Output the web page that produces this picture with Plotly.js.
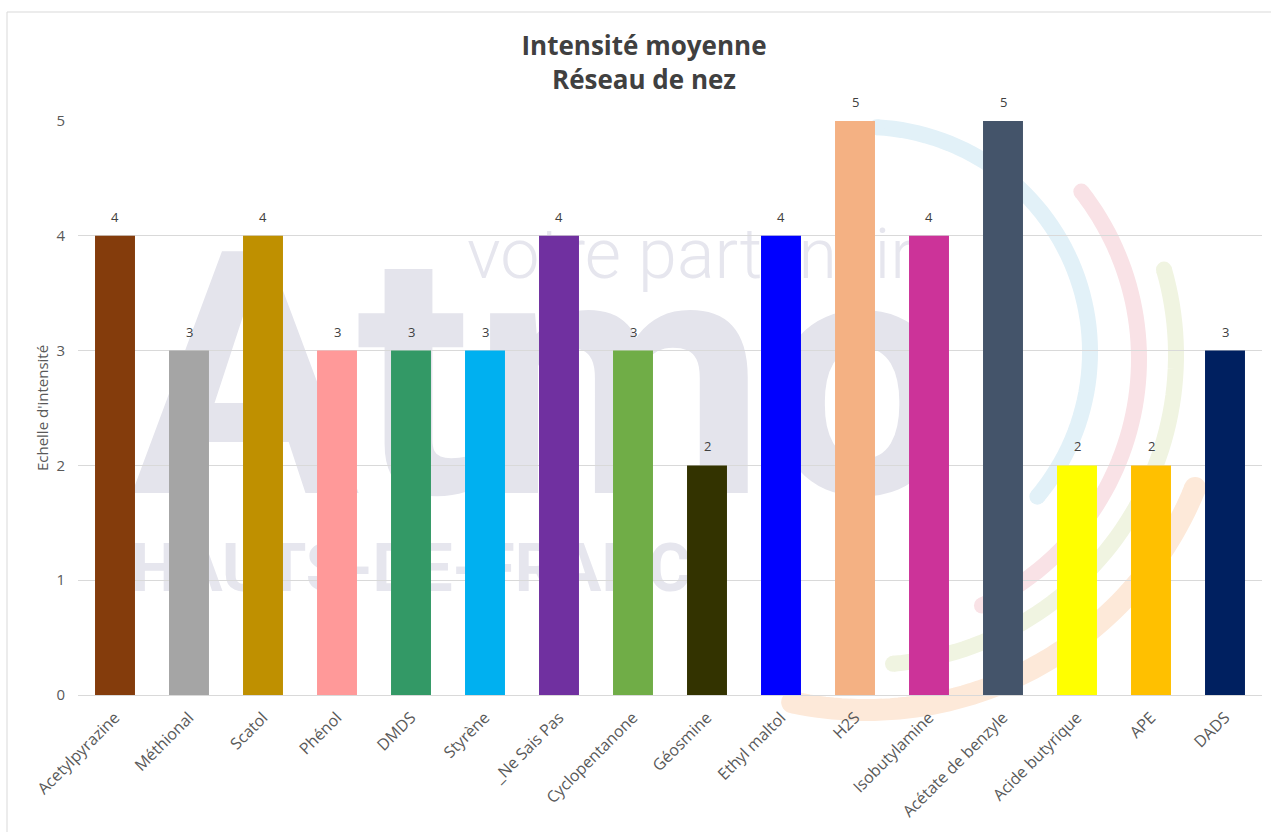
<!DOCTYPE html>
<html>
<head>
<meta charset="utf-8">
<script src="https://cdn.plot.ly/plotly-3.0.1.min.js"></script>
<style>
  html, body { margin: 0; padding: 0; background: #ffffff; }
  #chart { width: 1271px; height: 832px; }
</style>
</head>
<body>
<div id="chart"></div>
<script>
// Odorants tested by the nose panel and their mean intensity score
const categories = [
  'Acetylpyrazine', 'Méthional', 'Scatol', 'Phénol', 'DMDS', 'Styrène',
  '_Ne Sais Pas', 'Cyclopentanone', 'Géosmine', 'Ethyl maltol', 'H2S',
  'Isobutylamine', 'Acétate de benzyle', 'Acide butyrique', 'APE', 'DADS'
];
const intensities = [4, 3, 4, 3, 3, 3, 4, 3, 2, 4, 5, 4, 5, 2, 2, 3];
const barColors = [
  '#843C0C', '#A5A5A5', '#BF9000', '#FF9999', '#339966', '#00B0F0',
  '#7030A0', '#70AD47', '#333300', '#0000FF', '#F4B183', '#CC3399',
  '#44546A', '#FFFF00', '#FFC000', '#002060'
];
const yTicks = [0, 1, 2, 3, 4, 5];

// Frame of the plotting area in page pixels
const W = 1271, H = 832;
const M = { l: 78, r: 9, t: 121, b: 137 };
const PW = W - M.l - M.r, PH = H - M.t - M.b;
const px = x => (x - M.l) / PW;          // page x -> paper x
const py = y => (H - M.b - y) / PH;      // page y -> paper y

// Faint background logo: lettering + coloured arcs, all beneath the bars
const logoGrey = '#e4e4ec';
function textShape(text, x0, y0, x1, y1, size, color, weight, pos) {
  return {
    type: 'rect', layer: 'below', xref: 'paper', yref: 'paper',
    x0: px(x0), x1: px(x1), y0: py(y1), y1: py(y0),
    line: { width: 0 }, fillcolor: 'rgba(0,0,0,0)',
    label: {
      text: text, textposition: pos || 'bottom left', padding: 0,
      font: { family: 'Roboto, sans-serif', size: size, color: color, weight: weight }
    }
  };
}
function arcShapes(cx, cy, r, a0, a1, width, color) {
  const pts = [];
  const n = 60;
  for (let i = 0; i <= n; i++) {
    const a = (a0 + (a1 - a0) * i / n) * Math.PI / 180;
    pts.push([cx + r * Math.cos(a), cy + r * Math.sin(a)]);
  }
  const d = pts.map((p, i) => (i ? 'L' : 'M') + px(p[0]).toFixed(5) + ',' + py(p[1]).toFixed(5)).join(' ');
  const cap = p => ({
    type: 'circle', layer: 'below', xref: 'paper', yref: 'paper',
    xsizemode: 'pixel', ysizemode: 'pixel',
    xanchor: px(p[0]), yanchor: py(p[1]),
    x0: -width / 2, x1: width / 2, y0: -width / 2, y1: width / 2,
    line: { width: 0 }, fillcolor: color
  });
  return [
    { type: 'path', layer: 'below', xref: 'paper', yref: 'paper', path: d,
      line: { color: color, width: width }, fillcolor: 'rgba(0,0,0,0)' },
    cap(pts[0]), cap(pts[n])
  ];
}

const shapes = [
  // chart frame
  { type: 'rect', layer: 'below', xref: 'paper', yref: 'paper',
    x0: px(7), x1: px(1290), y0: py(850), y1: py(12),
    line: { color: '#d9d9d9', width: 1 }, fillcolor: 'rgba(0,0,0,0)' },
  ...arcShapes(866, 355, 355, 22, 102, 22, '#fde9d9'),
  ...arcShapes(866, 355, 310, -16, 85, 16, '#f0f4e1'),
  ...arcShapes(867, 359, 272, -38, 65, 16, '#f9e2e6'),
  ...arcShapes(865, 352, 225, -87, 40, 16, '#e2f1f8'),
  textShape('Atmo', 128, 150, 1100, 551, 340, logoGrey, 700),
  textShape('votre partenaire', 464, 200, 1100, 290, 70, '#e6e6ee', 300),
  textShape('HAUTS-DE-FRANCE', 128, 500, 900, 602, 66, '#e6e6ee', 700)
];

const bars = {
  type: 'bar',
  x: categories,
  y: intensities,
  marker: { color: barColors, line: { width: 0 } },
  hoverinfo: 'x+y',
  cliponaxis: false
};

// value labels above each bar
const valueLabels = categories.map((c, i) => ({
  x: c, y: intensities[i], xref: 'x', yref: 'y',
  text: String(intensities[i]), showarrow: false,
  yanchor: 'bottom', yshift: 8,
  font: { family: 'Open Sans, sans-serif', size: 13, color: '#404040' }
}));

const layout = {
  width: W, height: H,
  margin: M,
  paper_bgcolor: '#ffffff',
  plot_bgcolor: 'rgba(0,0,0,0)',
  showlegend: false,
  bargap: 0.46,
  title: {
    text: 'Intensité moyenne<br>Réseau de nez',
    font: { family: 'Open Sans, sans-serif', size: 26, weight: 700, color: '#404040' },
    xref: 'container', x: 644 / W, xanchor: 'center',
    yref: 'container', y: 1 - 55 / H, yanchor: 'top'
  },
  xaxis: {
    type: 'category',
    tickangle: -45,
    tickfont: { family: 'Open Sans, sans-serif', size: 16, color: '#595959' },
    ticklabelstandoff: 6,
    showgrid: false,
    showline: true, linecolor: '#d9d9d9', linewidth: 1,
    ticks: '', zeroline: false, automargin: false
  },
  yaxis: {
    range: [0, 5],
    tickvals: yTicks,
    tickfont: { family: 'Open Sans, sans-serif', size: 15, color: '#595959' },
    gridcolor: '#d9d9d9', gridwidth: 1,
    showline: false, zeroline: false, ticks: '',
    ticklabelstandoff: 12,
    automargin: false,
    title: {
      text: "Echelle d'intensité",
      font: { family: 'Open Sans, sans-serif', size: 15, color: '#595959' },
      standoff: 4
    }
  },
  shapes: shapes,
  annotations: valueLabels
};

Plotly.newPlot('chart', [bars], layout, { displayModeBar: false, staticPlot: true });
</script>
</body>
</html>
